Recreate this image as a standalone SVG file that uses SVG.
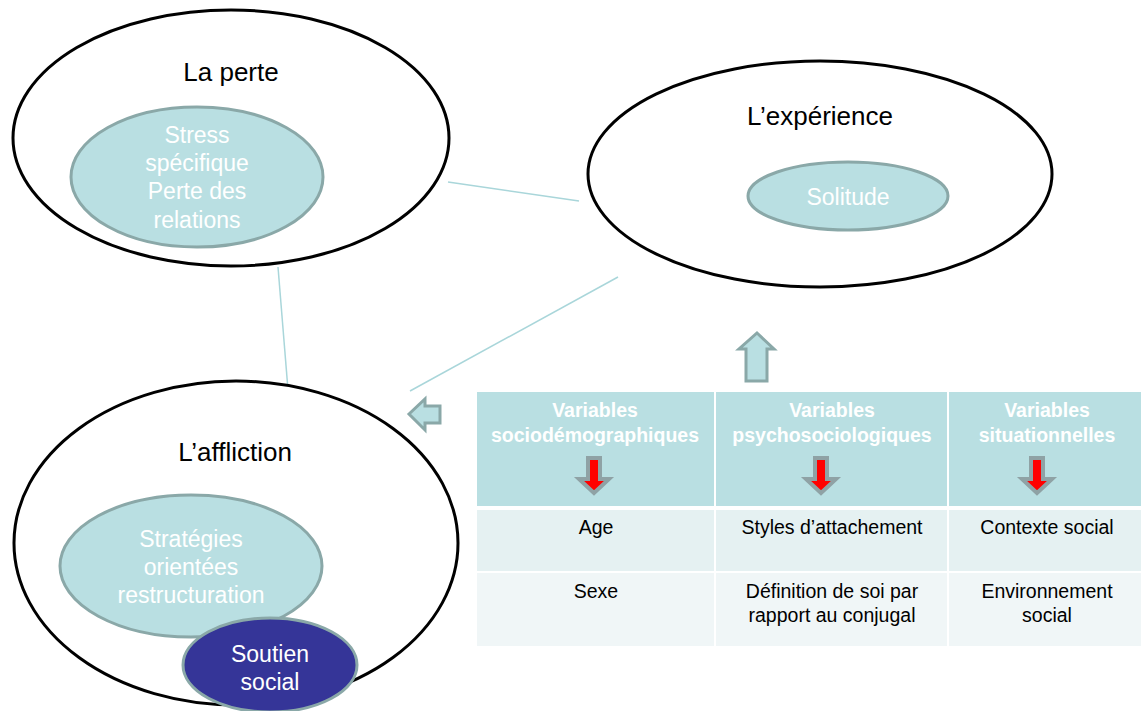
<svg xmlns="http://www.w3.org/2000/svg" width="1141" height="711" viewBox="0 0 1141 711">
<style>
.outer{fill:#ffffff;stroke:#000000;stroke-width:3}
.inner{fill:#b9dfe2;stroke:#8aa8a8;stroke-width:3}
.dark{fill:#353598;stroke:#8aa8a8;stroke-width:3}
.conn{stroke:#a9d6da;stroke-width:1.5;fill:none}
.block{fill:#b9dfe2;stroke:#8aa8a8;stroke-width:3;stroke-linejoin:miter}
.red{fill:#ff0000;stroke:#8fa2a5;stroke-width:4;stroke-linejoin:miter}
.title{font-family:"Liberation Sans",Arial,sans-serif;font-size:26px;fill:#000;text-anchor:middle}
.itext{font-family:"Liberation Sans",Arial,sans-serif;font-size:23px;fill:#ffffff;text-anchor:middle}
.head{font-family:"Liberation Sans",Arial,sans-serif;font-size:19.5px;font-weight:bold;fill:#ffffff;text-anchor:middle}
.cell{font-family:"Liberation Sans",Arial,sans-serif;font-size:19.5px;fill:#000;text-anchor:middle}
</style>
<rect width="1141" height="711" fill="#ffffff"/>
<g id="connectors">
<line class="conn" x1="448" y1="182" x2="579" y2="201"/>
<line class="conn" x1="278" y1="267" x2="288" y2="390"/>
<line class="conn" x1="410" y1="391" x2="618" y2="277"/>
</g>
<g id="la-perte">
<ellipse class="outer" cx="231" cy="138" rx="218" ry="128"/>
<text class="title" x="231" y="81">La perte</text>
<ellipse class="inner" cx="197" cy="177" rx="126" ry="70"/>
<text class="itext" x="197" y="143">Stress</text>
<text class="itext" x="197" y="171">spécifique</text>
<text class="itext" x="197" y="199">Perte des</text>
<text class="itext" x="197" y="228">relations</text>
</g>
<g id="experience">
<ellipse class="outer" cx="820" cy="174" rx="232" ry="113"/>
<text class="title" x="820" y="125">L’expérience</text>
<ellipse class="inner" cx="848" cy="196" rx="100" ry="34"/>
<text class="itext" x="848" y="205">Solitude</text>
</g>
<g id="affliction">
<ellipse class="outer" cx="236" cy="543" rx="222" ry="162"/>
<text class="title" x="235" y="461">L’affliction</text>
<ellipse class="inner" cx="191" cy="566" rx="131" ry="71"/>
<text class="itext" x="191" y="547">Stratégies</text>
<text class="itext" x="191" y="575">orientées</text>
<text class="itext" x="191" y="603">restructuration</text>
</g>
<g id="soutien">
<ellipse class="dark" cx="270" cy="665" rx="87" ry="47"/>
<text class="itext" x="270" y="662">Soutien</text>
<text class="itext" x="270" y="690">social</text>
</g>
<g id="arrow-up">
<polygon class="block" points="757,333 774,349 767,349 767,381 746,381 746,349 739,349"/>
</g>
<g id="arrow-left">
<polygon class="block" points="409,414 425,399 425,406 440,406 440,423 425,423 425,430"/>
</g>
<g id="table">
<rect x="477" y="392" width="664" height="114" fill="#b9dfe2"/>
<rect x="477" y="510" width="664" height="61" fill="#e5f1f2"/>
<rect x="477" y="573" width="664" height="73" fill="#f0f6f7"/>
<line x1="715" y1="392" x2="715" y2="646" stroke="#ffffff" stroke-width="2"/>
<line x1="948" y1="392" x2="948" y2="646" stroke="#ffffff" stroke-width="2"/>
<text class="head" x="595" y="417">Variables</text>
<text class="head" x="595" y="442">sociodémographiques</text>
<text class="head" x="832" y="417">Variables</text>
<text class="head" x="832" y="442">psychosociologiques</text>
<text class="head" x="1047" y="417">Variables</text>
<text class="head" x="1047" y="442">situationnelles</text>
<polygon class="red" points="588,458 600,458 600,479 609,479 594,493 579,479 588,479"/>
<polygon class="red" points="815,458 827,458 827,479 836,479 821,493 806,479 815,479"/>
<polygon class="red" points="1031,458 1043,458 1043,479 1052,479 1037,493 1022,479 1031,479"/>
<text class="cell" x="596" y="534">Age</text>
<text class="cell" x="832" y="534">Styles d’attachement</text>
<text class="cell" x="1047" y="534">Contexte social</text>
<text class="cell" x="596" y="598">Sexe</text>
<text class="cell" x="832" y="598">Définition de soi par</text>
<text class="cell" x="832" y="622">rapport au conjugal</text>
<text class="cell" x="1047" y="598">Environnement</text>
<text class="cell" x="1047" y="622">social</text>
</g>
</svg>
